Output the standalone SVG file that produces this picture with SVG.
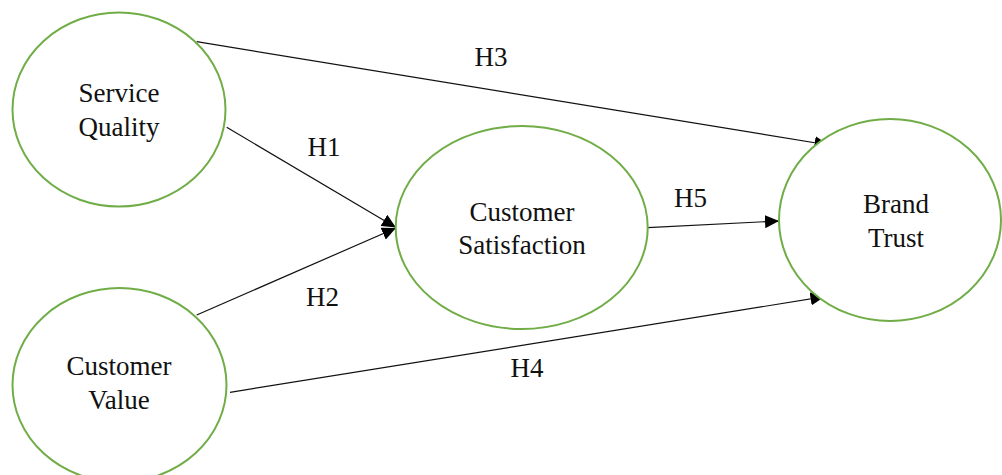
<svg xmlns="http://www.w3.org/2000/svg" width="1002" height="475" viewBox="0 0 1002 475" font-family="Liberation Serif, DejaVu Serif, serif">
  <style>
    .node { fill: #ffffff; stroke: #70AD47; stroke-width: 2; }
    .lbl { font-size: 27px; fill: #111111; text-anchor: middle; }
    .edge { stroke: #111111; stroke-width: 1.2; fill: none; marker-end: url(#arrow); }
  </style>
  <defs>
    <marker id="arrow" markerUnits="userSpaceOnUse" markerWidth="14" markerHeight="13" refX="14" refY="6.5" orient="auto">
      <path d="M0,0 L14,6.5 L0,13 z" fill="#000000"/>
    </marker>
  </defs>
  <rect width="1002" height="475" fill="#ffffff"/>
  <g id="connectors" font-family="Liberation Serif, serif">
    <line class="edge" x1="196.7" y1="41.7" x2="828.5" y2="145"/>
    <line class="edge" x1="226.7" y1="127.3" x2="396" y2="227.5"/>
    <line class="edge" x1="196.7" y1="315" x2="396" y2="228"/>
    <line class="edge" x1="230" y1="392.3" x2="824.5" y2="296.7"/>
    <line class="edge" x1="647.7" y1="227.7" x2="779" y2="221"/>
    <text class="lbl" x="491" y="66">H3</text>
    <text class="lbl" x="324" y="156">H1</text>
    <text class="lbl" x="322.5" y="305.7">H2</text>
    <text class="lbl" x="527" y="376.7">H4</text>
    <text class="lbl" x="690.5" y="206.7">H5</text>
  </g>
  <g id="service-quality" font-family="Liberation Serif, serif">
    <ellipse class="node" cx="119" cy="109.5" rx="106.5" ry="97"/>
    <text class="lbl" x="119" y="102">Service</text>
    <text class="lbl" x="119" y="136">Quality</text>
  </g>
  <g id="customer-value" font-family="Liberation Serif, serif">
    <ellipse class="node" cx="119.5" cy="385" rx="107" ry="97"/>
    <text class="lbl" x="119" y="375">Customer</text>
    <text class="lbl" x="119" y="408.5">Value</text>
  </g>
  <g id="customer-satisfaction" font-family="Liberation Serif, serif">
    <ellipse class="node" cx="521.7" cy="227.5" rx="126" ry="101.5"/>
    <text class="lbl" x="522" y="220.7">Customer</text>
    <text class="lbl" x="522" y="254">Satisfaction</text>
  </g>
  <g id="brand-trust" font-family="Liberation Serif, serif">
    <ellipse class="node" cx="890" cy="220" rx="111" ry="101"/>
    <text class="lbl" x="896" y="213.3">Brand</text>
    <text class="lbl" x="896" y="246.7">Trust</text>
  </g>
</svg>
